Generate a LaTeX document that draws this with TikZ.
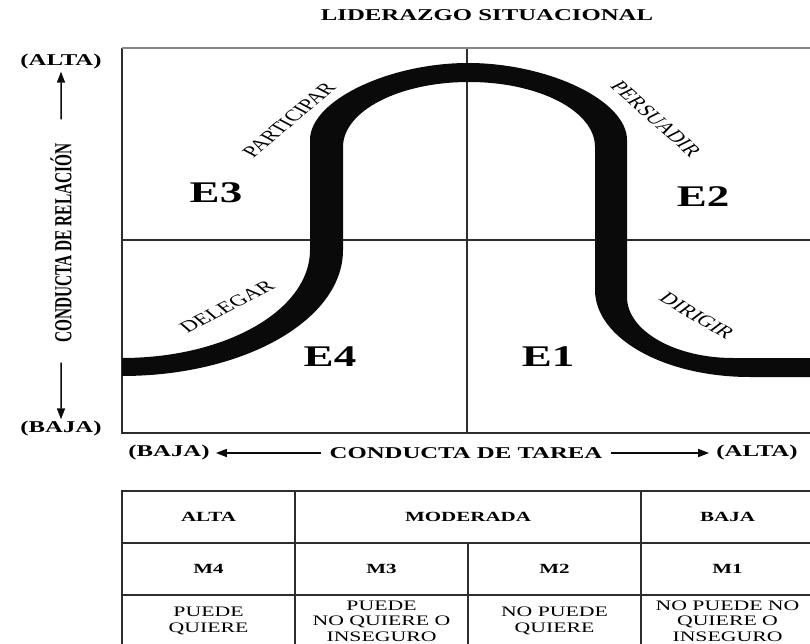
\documentclass[tikz,border=0pt]{standalone}
\usepackage{fontspec}
\setmainfont{Liberation Serif}
\usetikzlibrary{arrows.meta}
\definecolor{ink}{RGB}{10,10,10}
\definecolor{rule}{RGB}{45,45,45}
\definecolor{topgray}{RGB}{135,135,135}
\tikzset{
  wide/.style={xscale=1.5,inner sep=0pt},
  title/.style={wide,font=\fontsize{16.5}{18}\selectfont\bfseries},
  axislbl/.style={wide,font=\fontsize{16.5}{18}\selectfont\bfseries},
  rellbl/.style={inner sep=0pt,font=\fontsize{15.3}{17}\selectfont\bfseries},
  quad/.style={wide,font=\fontsize{30}{32}\selectfont\bfseries},
  curvelbl/.style={wide,font=\fontsize{16}{18}\selectfont},
  gridln/.style={draw=rule,line width=1.3pt},
  axisarr/.style={-{Triangle[length=11pt,width=8pt]},draw=ink,line width=1.5pt},
  cell/.style={draw=rule,line width=1.3pt,minimum width=115.33pt,minimum height=52pt,inner sep=0pt,xscale=1.5,align=center,font=\fontsize{14}{16}\selectfont\bfseries},
  wcell/.style={cell,minimum width=230.67pt},
  tcell/.style={cell,font=\fontsize{14.5}{15.5}\selectfont}
}

\begin{document}
\begin{tikzpicture}[x=1pt,y=-1pt]
\useasboundingbox (0,0) rectangle (810,644);
\clip (0,0) rectangle (810,644);
\node[title] (ttl) at (487,15) {LIDERAZGO SITUACIONAL};

% cuadrantes
\draw[gridln] (122,48) -- (122,433) -- (812,433);
\draw[gridln] (467,48) -- (467,433);
\draw[gridln] (122,240) -- (812,240);
\draw[draw=topgray,line width=2pt] (122,48) -- (812,48);

% curva de estilos
\fill[ink] (122,358)
  .. controls (226,358) and (310,310) .. (310,250)
  -- (310,140)
  .. controls (310,100) and (390,63) .. (468,63)
  .. controls (547,63) and (627,100) .. (627,140)
  -- (627,297)
  .. controls (627,331) and (675,358) .. (733,358)
  -- (812,358) -- (812,377) -- (750,377)
  .. controls (664,377) and (595,338) .. (595,290)
  -- (595,147)
  .. controls (595,111) and (539,82) .. (469,82)
  .. controls (399,82) and (343,111) .. (343,147)
  -- (343,250)
  .. controls (343,320) and (244,376) .. (122,376) -- cycle;

\node[quad] (e3) at (216,193) {E3};
\node[quad] (e2) at (703,197) {E2};
\node[quad] (e4) at (330,357) {E4};
\node[quad] (e1) at (548,357) {E1};

\node[curvelbl,rotate=51.5] (part) at (289,120) {PARTICIPAR};
\node[curvelbl,rotate=-52.8] (pers) at (656,119) {PERSUADIR};
\node[curvelbl,rotate=37.7] (dele) at (227,307) {DELEGAR};
\node[curvelbl,rotate=-41.3] (diri) at (697,316) {DIRIGIR};

% eje vertical
\node[axislbl] (altaL) at (61,62) {(ALTA)};
\node[axislbl] (bajaL) at (61,429) {(BAJA)};
\node[rellbl,xscale=1.6,rotate=90] (relL) at (61,243) {CONDUCTA DE RELACIÓN};
\draw[axisarr,shorten <=24pt,shorten >=2pt] (relL.east) -- (altaL);
\draw[axisarr,shorten <=20pt,shorten >=2pt] (relL.west) -- (bajaL);

% eje horizontal
\node[axislbl] (bajaB) at (169,453) {(BAJA)};
\node[axislbl] (tareaB) at (466,453) {CONDUCTA DE TAREA};
\node[axislbl] (altaB) at (757,453) {(ALTA)};
\draw[axisarr,shorten <=8pt,shorten >=6pt] (tareaB.west) -- (bajaB);
\draw[axisarr,shorten <=8pt,shorten >=7pt] (tareaB.east) -- (altaB);

% tabla
\node[cell] (r1c1) at (208.5,517) {ALTA};
\node[wcell] (r1c2) at (468,517) {MODERADA};
\node[cell] (r1c4) at (727.5,517) {BAJA};
\node[cell] (r2c1) at (208.5,569) {M4};
\node[cell] (r2c2) at (381.5,569) {M3};
\node[cell] (r2c3) at (554.5,569) {M2};
\node[cell] (r2c4) at (727.5,569) {M1};
\node[tcell] (r3c1) at (208.5,621) {PUEDE\\QUIERE};
\node[tcell] (r3c2) at (381.5,621) {PUEDE\\NO QUIERE O\\INSEGURO};
\node[tcell] (r3c3) at (554.5,621) {NO PUEDE\\QUIERE};
\node[tcell] (r3c4) at (727.5,621) {NO PUEDE NO\\QUIERE O\\INSEGURO};
\end{tikzpicture}
\end{document}
